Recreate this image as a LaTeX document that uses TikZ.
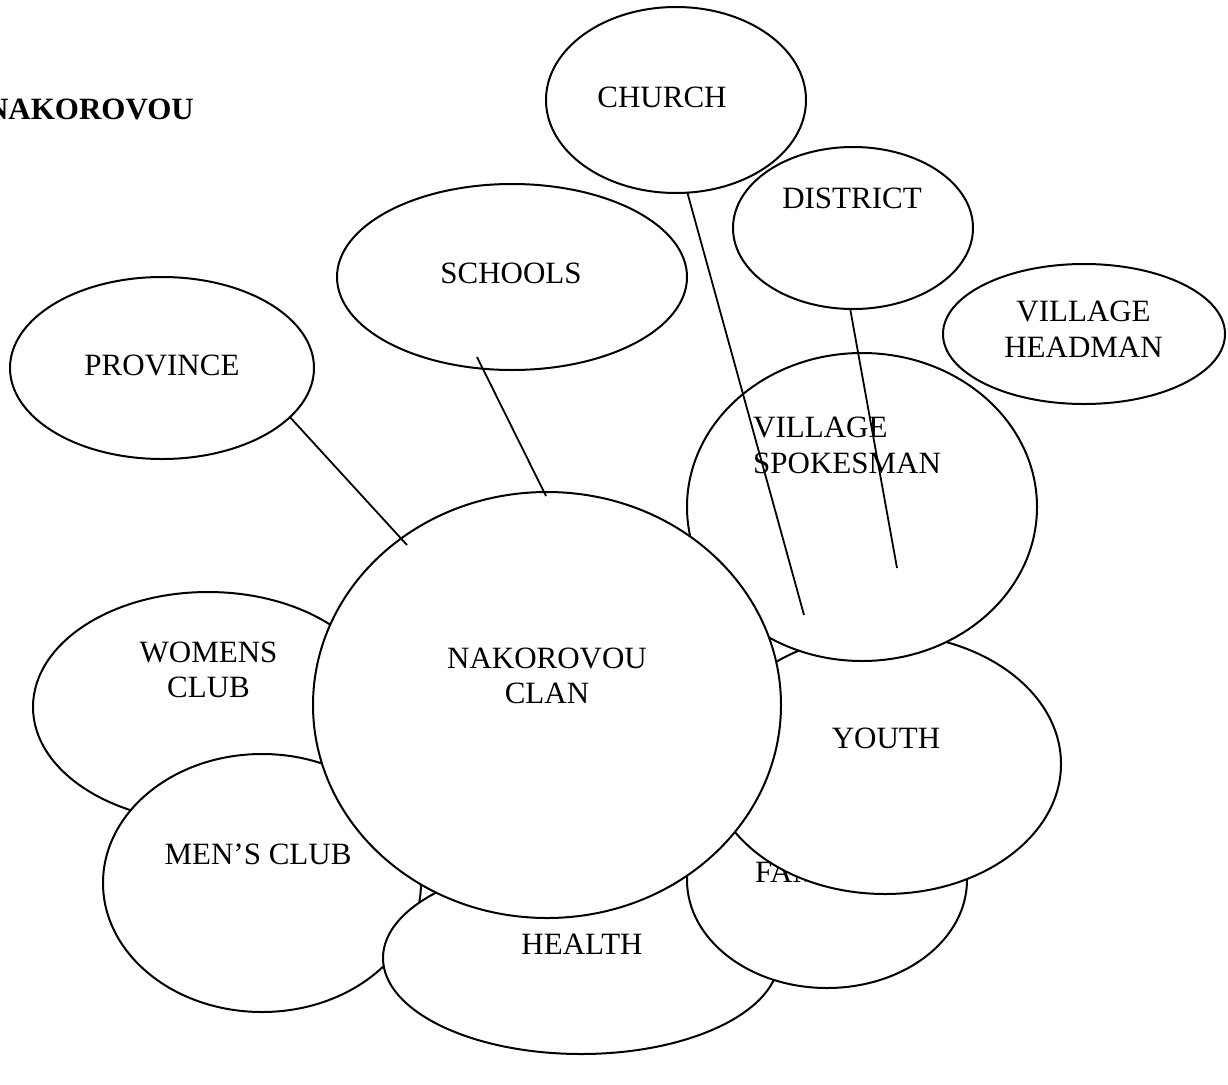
\documentclass[tikz,border=0pt]{standalone}
\usepackage{fontspec}
\setmainfont{Liberation Serif}
\usetikzlibrary{shapes.geometric}

\tikzset{
  bubble/.style={ellipse, draw, fill=white, line width=2pt, inner sep=0pt, outer sep=0pt},
  caption/.style={font=\fontsize{31}{35.5}\selectfont, inner sep=0pt, anchor=base, align=center},
  link/.style={line width=1.8pt}
}

\begin{document}
\begin{tikzpicture}[x=1pt,y=-1pt]
\useasboundingbox (0,0) rectangle (1228,1084);

% heading (multi-line captions are placed by the baseline of their last line)
\node[caption, anchor=base east, font=\fontsize{31}{35.5}\selectfont\bfseries] (title) at (194,119) {NAKOROVOU};

% free-standing bubbles
\node[bubble, minimum width=260pt, minimum height=186pt] (church) at (676,100) {};
\node[caption] (churchtxt) at (662,107) {CHURCH};

\node[bubble, minimum width=240pt, minimum height=162pt] (district) at (853,228) {};
\node[caption] (districttxt) at (852,208) {DISTRICT};

\node[bubble, minimum width=350pt, minimum height=186pt] (schools) at (512,277) {};
\node[caption] (schoolstxt) at (511,283) {SCHOOLS};

\node[bubble, minimum width=282pt, minimum height=140pt] (headman) at (1084,334) {};
\node[caption] (headmantxt) at (1083.5,357) {VILLAGE\\HEADMAN};

\node[bubble, minimum width=304pt, minimum height=182pt] (province) at (162,368) {};
\node[caption] (provincetxt) at (162,375) {PROVINCE};

% overlapping cluster, from the back to the front
\node[bubble, minimum width=350pt, minimum height=230pt] (womens) at (208,707) {};
\node[caption] (womenstxt) at (208.5,697.5) {WOMENS\\CLUB};

\node[bubble, minimum width=318pt, minimum height=258pt] (mens) at (262,883) {};
\node[caption] (menstxt) at (258,864) {MEN’S CLUB};

\node[bubble, minimum width=396pt, minimum height=192pt] (health) at (581,958) {};
\node[caption] (healthtxt) at (582,954) {HEALTH};

\node[bubble, minimum width=280pt, minimum height=216pt] (family) at (827,880) {};
\node[caption, anchor=base west] (familytxt) at (755,882) {FAMILY};

\node[bubble, minimum width=352pt, minimum height=260pt] (youth) at (885,764) {};
\node[caption] (youthtxt) at (886,748) {YOUTH};

\node[bubble, minimum width=350pt, minimum height=308pt] (spokesman) at (862,507) {};
\node[caption, anchor=base west, align=left] (spokesmantxt) at (753,473) {VILLAGE\\SPOKESMAN};

\node[bubble, minimum width=468pt, minimum height=426pt] (clan) at (547,705) {};
\node[caption] (clantxt) at (547,703.5) {NAKOROVOU\\CLAN};

% connector ends
\coordinate (schoolsfoot) at (477,357);
\coordinate (provinceend) at (407,545);
\coordinate (schoolsend) at (546,496);
\coordinate (churchend) at (804,615);
\coordinate (districtend) at (897,568);

\draw[link] (province.-21) -- (provinceend);
\draw[link] (schoolsfoot) -- (schoolsend);
\draw[link] (church.-83) -- (churchend);
\draw[link] (district.-92) -- (districtend);
\end{tikzpicture}
\end{document}
